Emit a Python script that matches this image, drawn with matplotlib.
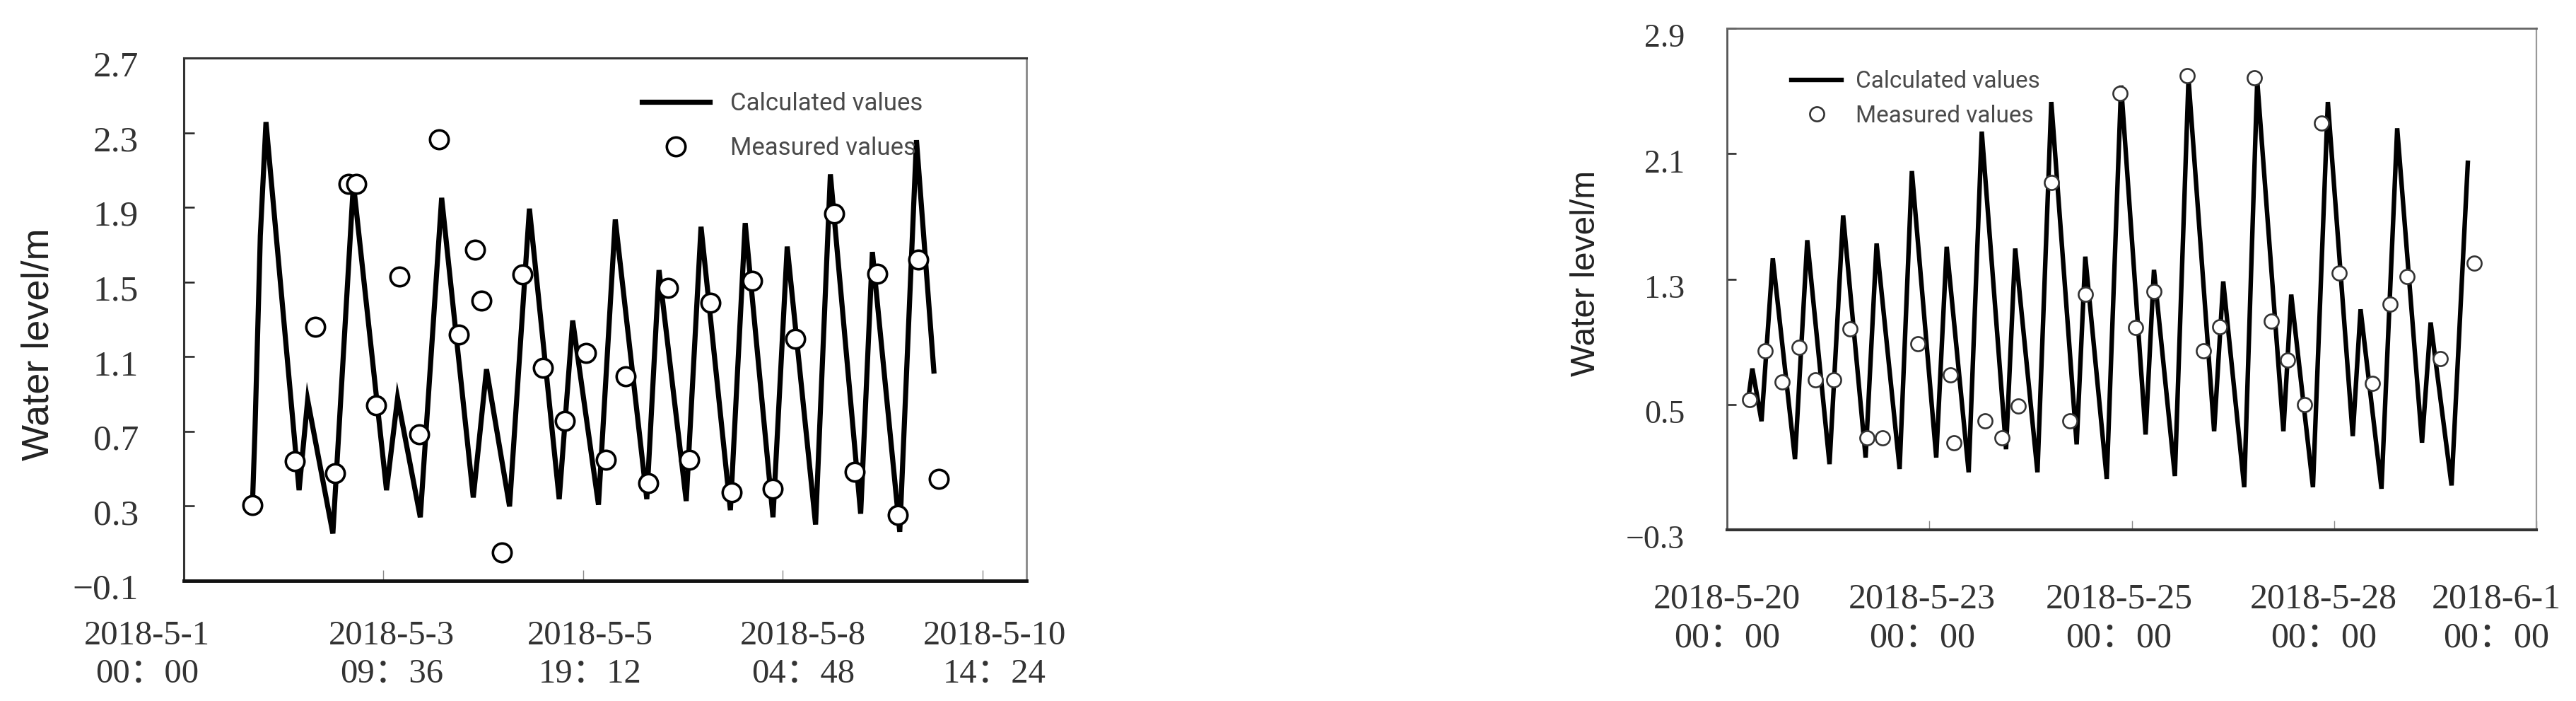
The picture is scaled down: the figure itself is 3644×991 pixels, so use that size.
import matplotlib
matplotlib.use("Agg")
import matplotlib.pyplot as plt
import matplotlib.transforms as mtransforms
from matplotlib.lines import Line2D

# ---- data (days since the first tick, water level in m) ----
# May 1 - May 10 2018
left_calc_day = [0.825, 0.855, 0.920, 0.988, 1.386, 1.489, 1.792, 2.039, 2.437, 2.570,
                 2.843, 3.100, 3.480, 3.639, 3.916, 4.155, 4.513, 4.675, 4.985, 5.187,
                 5.566, 5.713, 6.040, 6.218, 6.571, 6.749, 7.083, 7.254, 7.595, 7.773,
                 8.137, 8.278, 8.607, 8.808, 9.017]
left_calc_level = [0.307, 0.694, 1.748, 2.357, 0.385, 0.868, 0.153, 2.028, 0.385, 0.878,
                   0.240, 1.951, 0.346, 1.033, 0.298, 1.893, 0.337, 1.294, 0.307, 1.835,
                   0.337, 1.564, 0.327, 1.796, 0.278, 1.816, 0.240, 1.690, 0.201, 2.077,
                   0.259, 1.661, 0.162, 2.260, 1.023]
left_meas_day = [0.825, 1.337, 1.584, 1.822, 1.982, 2.077, 2.312, 2.589, 2.827, 3.070,
                 3.309, 3.499, 3.574, 3.821, 4.067, 4.314, 4.579, 4.832, 5.072, 5.315,
                 5.584, 5.822, 6.078, 6.332, 6.590, 6.836, 7.075, 7.348, 7.822, 8.069,
                 8.334, 8.581, 8.827, 9.074]
left_meas_level = [0.307, 0.539, 1.259, 0.476, 2.024, 2.024, 0.839, 1.529, 0.684, 2.266,
                   1.220, 1.674, 1.400, 0.052, 1.541, 1.042, 0.756, 1.120, 0.549, 0.994,
                   0.423, 1.468, 0.549, 1.390, 0.375, 1.506, 0.394, 1.197, 1.868, 0.485,
                   1.545, 0.253, 1.622, 0.447]

# May 20 - June 1 2018
right_calc_day = [0.330, 0.376, 0.512, 0.679, 1.008, 1.190, 1.520, 1.722, 2.055, 2.218,
                  2.559, 2.741, 3.102, 3.257, 3.583, 3.777, 4.137, 4.273, 4.603, 4.808,
                  5.184, 5.312, 5.630, 5.843, 6.206, 6.330, 6.640, 6.842, 7.222, 7.357,
                  7.668, 7.861, 8.249, 8.365, 8.687, 8.908, 9.277, 9.393, 9.703, 9.936,
                  10.304, 10.432, 10.742, 10.983]
right_calc_level = [0.580, 0.729, 0.393, 1.432, 0.151, 1.548, 0.119, 1.706, 0.161, 1.527,
                    0.088, 1.989, 0.161, 1.506, 0.067, 2.241, 0.214, 1.495, 0.067, 2.430,
                    0.245, 1.443, 0.025, 2.535, 0.308, 1.359, 0.043, 2.577, 0.329, 1.285,
                    -0.028, 2.567, 0.329, 1.201, -0.028, 2.430, 0.298, 1.107, -0.038, 2.262,
                    0.256, 1.023, -0.017, 2.042]
right_meas_day = [0.337, 0.570, 0.822, 1.074, 1.307, 1.578, 1.822, 2.071, 2.307, 2.827,
                  3.311, 3.362, 3.827, 4.079, 4.323, 4.808, 5.087, 5.312, 5.824, 6.060,
                  6.330, 6.826, 7.066, 7.307, 7.823, 8.067, 8.315, 8.559, 8.819, 9.075,
                  9.567, 9.831, 10.083, 10.576, 11.080]
right_meas_level = [0.529, 0.844, 0.645, 0.865, 0.659, 0.659, 0.981, 0.287, 0.287, 0.886,
                    0.687, 0.256, 0.397, 0.287, 0.491, 1.916, 0.397, 1.201, 2.487, 0.991,
                    1.222, 2.598, 0.844, 0.995, 2.584, 1.033, 0.781, 0.497, 2.294, 1.338,
                    0.634, 1.138, 1.317, 0.792, 1.401]

left_xticks = [0, 2.4, 4.8, 7.2, 9.6]
left_xlabels = ["2018-5-1\n00：00", "2018-5-3\n09：36", "2018-5-5\n19：12",
                "2018-5-8\n04：48", "2018-5-10\n14：24"]
left_yticks = [-0.1, 0.3, 0.7, 1.1, 1.5, 1.9, 2.3, 2.7]
left_ylabels = ["−0.1", "0.3", "0.7", "1.1", "1.5", "1.9", "2.3", "2.7"]

right_xticks = [0, 3, 6, 9, 12]
right_xlabels = ["2018-5-20\n00：00", "2018-5-23\n00：00", "2018-5-25\n00：00",
                 "2018-5-28\n00：00", "2018-6-1\n00：00"]
right_yticks = [-0.3, 0.5, 1.3, 2.1, 2.9]
right_ylabels = ["−0.3", "0.5", "1.3", "2.1", "2.9"]

W, H = 3644, 991
SERIF = ["Liberation Serif", "Noto Sans CJK SC"]

fig = plt.figure(figsize=(W / 100, H / 100), dpi=100)


def shift(labels, dxs, dy):
    for lbl, dx in zip(labels, dxs):
        off = mtransforms.ScaledTranslation(dx / 100, -dy / 100, fig.dpi_scale_trans)
        lbl.set_transform(lbl.get_transform() + off)


def panel(rect, cday, clev, mday, mlev, xlim, ylim, xt, xl, yt, yl, s):
    ax = fig.add_axes(rect)
    ax.plot(cday, clev, color="black", lw=s["lw"], solid_joinstyle="miter", zorder=2)
    ax.plot(mday, mlev, ls="none", marker="o", ms=s["ms"], mew=s["mew"],
            mfc="white", mec=s["mec"], zorder=3)
    ax.set_xlim(*xlim)
    ax.set_ylim(*ylim)
    ax.set_xticks(xt)
    ax.set_xticklabels(xl, fontfamily=SERIF, fontsize=s["xfs"], color="#333333",
                       linespacing=s["ls"])
    ax.set_yticks(yt)
    ax.set_yticklabels(yl, fontfamily=SERIF, fontsize=s["yfs"], color="#333333")
    ax.tick_params(axis="x", direction="in", length=s["tl"], width=1.0,
                   color="#8a8a8a", pad=s["xpad"])
    ax.tick_params(axis="y", direction="in", length=s["tl"], width=1.8,
                   color="#222222", pad=s["ypad"])
    for side, (c, w) in s["spines"].items():
        ax.spines[side].set_color(c)
        ax.spines[side].set_linewidth(w)
    ax.set_ylabel("Water level/m", fontfamily="Liberation Sans", fontsize=s["lfs"],
                  color="#222222", va="center")
    ax.yaxis.set_label_coords(*s["lab"])

    handles = [Line2D([], [], color="black", lw=s["lw"]),
               Line2D([], [], ls="none", marker="o", ms=s["ms"], mew=s["mew"],
                      mfc="white", mec=s["mec"])]
    leg = ax.legend(handles, ["Calculated values", "Measured values"],
                    loc="center left", bbox_to_anchor=s["leg"],
                    bbox_transform=fig.transFigure, frameon=False, borderpad=0,
                    handlelength=s["hl"], handletextpad=s["htp"],
                    labelspacing=s["lsp"],
                    prop={"family": "Roboto", "size": s["lgfs"]})
    for t in leg.get_texts():
        t.set_color("#4a4a4a")

    shift(ax.get_xticklabels(), s["xdx"], 0)
    shift(ax.get_yticklabels(), [0] * len(yt), s["ydy"])
    return ax


left_style = dict(lw=5.2, ms=19, mew=2.6, mec="black", xfs=35, yfs=37, ls=1.3,
                  tl=10.5, xpad=40, ypad=46, lfs=39, lab=(-0.172, 0.453),
                  spines={"top": ("#333333", 2.2), "left": ("#333333", 2.2),
                          "bottom": ("#111111", 3.5), "right": ("#888888", 2.0)},
                  leg=(891 / W, 1 - 178 / H), hl=2.75, htp=0.85, lsp=0.85, lgfs=25,
                  xdx=[-52, 12, 10, 29, 17], ydy=8)
right_style = dict(lw=4.6, ms=14.5, mew=1.9, mec="#333333", xfs=36, yfs=33, ls=1.25,
                   tl=9.5, xpad=54, ypad=43, lfs=34.5, lab=(-0.174, 0.511),
                   spines={"top": ("#666666", 2.0), "left": ("#555555", 2.0),
                           "bottom": ("#333333", 3.0), "right": ("#999999", 1.6)},
                   leg=(2517 / W, 1 - 139.5 / H), hl=2.15, htp=0.6, lsp=0.5, lgfs=24,
                   xdx=[0, -10, -18, -15, -57], ydy=10)

panel([260 / W, 1 - 821 / H, 1192 / W, 739 / H],
      left_calc_day, left_calc_level, left_meas_day, left_meas_level,
      (0, 10.13), (-0.1, 2.7), left_xticks, left_xlabels, left_yticks, left_ylabels,
      left_style)
panel([2443 / W, 1 - 749 / H, 1145 / W, 709 / H],
      right_calc_day, right_calc_level, right_meas_day, right_meas_level,
      (0, 12), (-0.3, 2.9), right_xticks, right_xlabels, right_yticks, right_ylabels,
      right_style)

fig.savefig("out.png", dpi=100, facecolor="white")
